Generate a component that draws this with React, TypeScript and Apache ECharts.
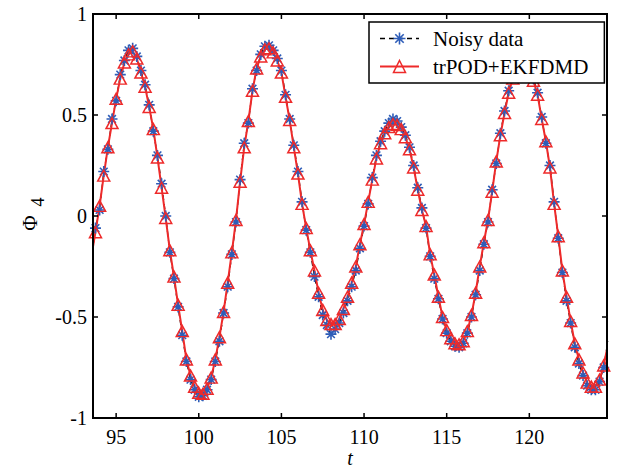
import React, { useEffect, useRef } from "react";
import * as echarts from "echarts";

const tStart = 93.5;
const tStep = 0.25;

const modelValues = [
  -0.2, -0.08, 0.05, 0.2, 0.34, 0.46, 0.58, 0.68, 0.76, 0.8, 0.815, 0.78, 0.71, 0.64, 0.54, 0.43, 0.29, 0.14, -0.01, -0.17,
  -0.3, -0.44, -0.57, -0.71, -0.79, -0.845, -0.875, -0.88, -0.855, -0.8, -0.71, -0.6, -0.475, -0.33, -0.18, -0.02, 0.17, 0.34, 0.47, 0.62,
  0.73, 0.79, 0.825, 0.83, 0.81, 0.77, 0.71, 0.59, 0.475, 0.34, 0.21, 0.06, -0.06, -0.17, -0.27, -0.38, -0.465, -0.515, -0.535, -0.535,
  -0.51, -0.46, -0.4, -0.33, -0.25, -0.14, -0.04, 0.07, 0.18, 0.285, 0.36, 0.41, 0.44, 0.455, 0.45, 0.43, 0.39, 0.33, 0.24, 0.13,
  0.03, -0.05, -0.19, -0.29, -0.4, -0.5, -0.565, -0.605, -0.63, -0.635, -0.62, -0.57, -0.49, -0.38, -0.25, -0.13, -0.02, 0.12, 0.27, 0.4,
  0.51, 0.61, 0.68, 0.73, 0.75, 0.74, 0.71, 0.67, 0.6, 0.48, 0.37, 0.24, 0.06, -0.1, -0.27, -0.4, -0.52, -0.63, -0.71, -0.775,
  -0.825, -0.845, -0.845, -0.81, -0.74, -0.64,
];

const noisyValues = [
  -0.22, -0.06, 0.03, 0.22, 0.33, 0.48, 0.57, 0.7, 0.77, 0.82, 0.83, 0.79, 0.72, 0.65, 0.55, 0.42, 0.3, 0.16, 0.0, -0.18,
  -0.31, -0.45, -0.59, -0.72, -0.81, -0.86, -0.895, -0.89, -0.86, -0.81, -0.72, -0.62, -0.48, -0.35, -0.19, -0.03, 0.18, 0.36, 0.46, 0.63,
  0.72, 0.8, 0.84, 0.845, 0.82, 0.78, 0.72, 0.6, 0.48, 0.35, 0.22, 0.07, -0.07, -0.18, -0.3, -0.4, -0.49, -0.54, -0.585, -0.56,
  -0.53, -0.48, -0.42, -0.35, -0.27, -0.16, -0.05, 0.06, 0.19, 0.3, 0.37, 0.42, 0.46, 0.48, 0.47, 0.44, 0.4, 0.34, 0.25, 0.14,
  0.04, -0.06, -0.2, -0.31, -0.41, -0.51, -0.58, -0.62, -0.645, -0.65, -0.63, -0.58, -0.5, -0.39, -0.27, -0.14, -0.03, 0.13, 0.26, 0.41,
  0.52, 0.62, 0.69, 0.74, 0.76, 0.75, 0.72, 0.68, 0.61, 0.49, 0.36, 0.25, 0.07, -0.11, -0.28, -0.42, -0.53, -0.65, -0.73, -0.79,
  -0.84, -0.86, -0.86, -0.82, -0.75, -0.62,
];

const xTicks = [95, 100, 105, 110, 115, 120];
const yTicks = [-1, -0.5, 0, 0.5, 1];
const xMin = 93.6;
const xMax = 124.7;
const yMin = -1;
const yMax = 1;
const seriesNames = ["Noisy data", "trPOD+EKFDMD"];

const FONT = "'Liberation Serif', 'Times New Roman', serif";
const RED = "#EE2A2A";
const BLUE = "#2E5DB8";
const ASTERISK = "path://M5,0L5,10M0,5L10,5M1.5,1.5L8.5,8.5M1.5,8.5L8.5,1.5";

export default function App() {
  const ref = useRef<HTMLDivElement>(null);
  useEffect(() => {
    if (!ref.current) return;
    const chart = echarts.init(ref.current, undefined, { renderer: "svg" });
    const noisy = noisyValues.map((v, i) => [tStart + i * tStep, v]);
    const model = modelValues.map((v, i) => [tStart + i * tStep, v]);
    chart.setOption({
      animation: false,
      grid: { left: 93, right: 11, top: 14, bottom: 49, outerBoundsMode: "none" },
      xAxis: {
        type: "value",
        min: xMin,
        max: xMax,
        axisLine: { show: false },
        axisTick: { show: false },
        axisLabel: { customValues: xTicks, fontFamily: FONT, fontSize: 20, color: "#000", margin: 9 },
        splitLine: { show: false },
      },
      yAxis: {
        type: "value",
        min: yMin,
        max: yMax,
        interval: 0.5,
        axisLine: { show: false },
        axisTick: { show: false },
        axisLabel: { fontFamily: FONT, fontSize: 20, color: "#000", margin: 6 },
        splitLine: { show: false },
      },
      legend: {
        orient: "vertical",
        left: 369,
        top: 22,
        padding: [6, 16, 6, 10],
        itemWidth: 39,
        itemHeight: 15,
        itemGap: 7,
        backgroundColor: "#fff",
        borderColor: "#000",
        borderWidth: 1.5,
        borderRadius: 0,
        textStyle: { fontFamily: FONT, fontSize: 21, color: "#000", padding: [0, 0, 0, 9], lineHeight: 21 },
        data: [
          {
            name: seriesNames[0],
            itemStyle: { color: "transparent", borderColor: BLUE, borderWidth: 1.6 },
            lineStyle: { color: "#000", width: 1.5, type: [5, 4] },
          },
          {
            name: seriesNames[1],
            itemStyle: { color: "transparent", borderColor: RED, borderWidth: 1.5 },
            lineStyle: { color: RED, width: 2, type: "solid" },
          },
        ],
      },
      series: [
        {
          name: seriesNames[0],
          type: "line",
          data: noisy,
          symbol: ASTERISK,
          symbolSize: 11,
          showAllSymbol: true,
          itemStyle: { color: "transparent", borderColor: BLUE, borderWidth: 1.6 },
          lineStyle: { color: "#000", width: 1.2, type: [5, 4] },
        },
        {
          name: seriesNames[1],
          type: "line",
          data: model,
          symbol: "path://M0,-1L0.95,0.75L-0.95,0.75Z",
          symbolSize: [12, 11],
          showAllSymbol: true,
          itemStyle: { color: "transparent", borderColor: RED, borderWidth: 1.5 },
          lineStyle: { color: RED, width: 2 },
        },
      ],
    });

    // Frame and inward ticks, placed through the chart's own scales.
    const p = (x: number, y: number) => chart.convertToPixel({ gridIndex: 0 }, [x, y]) as number[];
    const [left, bottom] = p(xMin, yMin);
    const [right, top] = p(xMax, yMax);
    const TL = 5;
    const tickStyle = { stroke: "#000", lineWidth: 1.5 };
    const elements: any[] = [];
    elements.push({
      type: "rect",
      z: 10,
      shape: { x: left, y: top, width: right - left, height: bottom - top },
      style: { fill: "none", stroke: "#000", lineWidth: 2 },
    });
    xTicks.forEach((v) => {
      const [px] = p(v, 0);
      elements.push({ type: "line", z: 10, shape: { x1: px, y1: bottom, x2: px, y2: bottom - TL }, style: tickStyle });
      elements.push({ type: "line", z: 10, shape: { x1: px, y1: top, x2: px, y2: top + TL }, style: tickStyle });
    });
    yTicks.forEach((v) => {
      const [, py] = p(xMin, v);
      elements.push({ type: "line", z: 10, shape: { x1: left, y1: py, x2: left + TL, y2: py }, style: tickStyle });
      elements.push({ type: "line", z: 10, shape: { x1: right, y1: py, x2: right - TL, y2: py }, style: tickStyle });
    });
    elements.push({
      type: "text",
      x: (left + right) / 2,
      y: bottom + 40,
      style: { text: "t", font: `italic 20px ${FONT}`, fill: "#000", align: "center", verticalAlign: "middle" },
    });
    elements.push({
      type: "text",
      x: 30,
      y: (top + bottom) / 2 + 7,
      rotation: Math.PI / 2,
      style: { text: "Φ", font: `21px ${FONT}`, fill: "#000", align: "center", verticalAlign: "middle" },
    });
    elements.push({
      type: "text",
      x: 38,
      y: (top + bottom) / 2 - 14,
      rotation: Math.PI / 2,
      style: { text: "4", font: `18px ${FONT}`, fill: "#000", align: "center", verticalAlign: "middle" },
    });
    chart.setOption({ graphic: elements });

    return () => chart.dispose();
  }, []);
  return (
    <div style={{ position: "absolute", left: 0, top: 0, width: 618, height: 467, background: "#fff" }}>
      <div ref={ref} style={{ width: 618, height: 467 }} />
    </div>
  );
}
